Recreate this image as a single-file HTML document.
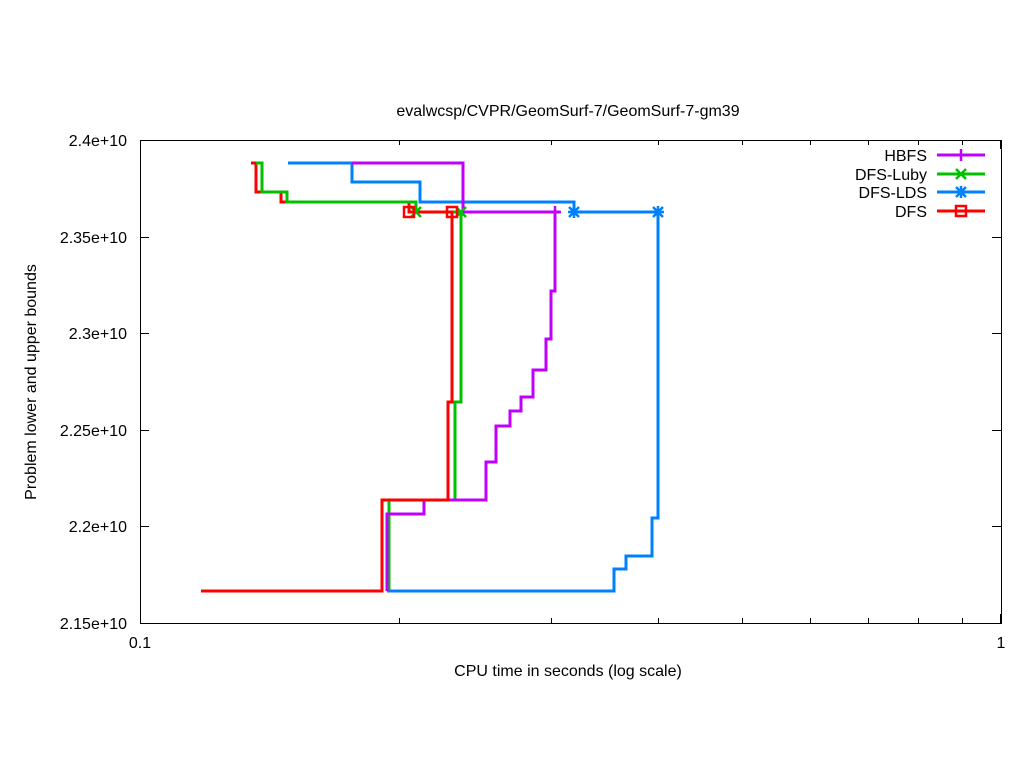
<!DOCTYPE html>
<html><head><style>body{margin:0;background:#fff}svg{display:block}text{font-family:"Liberation Sans",sans-serif;font-size:16px;fill:#000}</style></head><body>
<svg width="1024" height="768" viewBox="0 0 1024 768">
<rect width="1024" height="768" fill="#fff"/>
<g stroke="#000" stroke-width="1" fill="none">
<rect x="140.5" y="140.5" width="861" height="483"/>
<path d="M140 237.5h9M1001 237.5h-9M140 333.5h9M1001 333.5h-9M140 430.5h9M1001 430.5h-9M140 526.5h9M1001 526.5h-9"/>
<path d="M140.5 623v-9M140.5 140v9M1000.5 623v-9M1000.5 140v9"/>
<path d="M399.5 623v-5M399.5 140v5M551.5 623v-5M551.5 140v5M658.5 623v-5M658.5 140v5M742.5 623v-5M742.5 140v5M810.5 623v-5M810.5 140v5M868.5 623v-5M868.5 140v5M918.5 623v-5M918.5 140v5M962.5 623v-5M962.5 140v5"/>
</g>
<g text-anchor="end">
<text x="127" y="146">2.4e+10</text>
<text x="127" y="243">2.35e+10</text>
<text x="127" y="339">2.3e+10</text>
<text x="127" y="436">2.25e+10</text>
<text x="127" y="532">2.2e+10</text>
<text x="127" y="629">2.15e+10</text>
</g>
<text x="140" y="648" text-anchor="middle">0.1</text>
<text x="1001" y="648" text-anchor="middle">1</text>
<text x="568" y="676" text-anchor="middle">CPU time in seconds (log scale)</text>
<text x="568" y="116" text-anchor="middle">evalwcsp/CVPR/GeomSurf-7/GeomSurf-7-gm39</text>
<text transform="translate(36,382) rotate(-90)" text-anchor="middle">Problem lower and upper bounds</text>
<g fill="none" stroke-width="3">
<path stroke="#ff0000" d="M251 163H256V192H281V202H409V212H452M201 591H382V500H448V402H452V212"/>
<path stroke="#00c000" d="M256 163H262V192H287V202H416V212H461M389 591V500H455V402H461V212"/>
<path stroke="#0080ff" d="M288 163H352V182H420V202H574V212H658M387 591H614V569H626V556H652V518H658V212"/>
<path stroke="#bf00ff" d="M352 163H463V212H560M387 591V514H424V500H486V462H496V426H510V411H521V397H533V370H546V339H551V291H555V212"/>
<path stroke="#ff0000" d="M201 591H382V500H448V402H452V212H409"/>
</g>
<g fill="none" stroke-width="2.5">
<path stroke="#bf00ff" d="M555 206v12M549 212h12"/>
<path stroke="#00c000" d="M411 207l10 10M421 207l-10 10M456 207l10 10M466 207l-10 10"/>
<path stroke="#0080ff" d="M569 207l10 10M579 207l-10 10M574 206v12M568 212h12M653 207l10 10M663 207l-10 10M658 206v12M652 212h12"/>
<path stroke="#ff0000" d="M404 207h10v10h-10zM447 207h10v10h-10z"/>
</g>
<g text-anchor="end">
<text x="927" y="161">HBFS</text>
<text x="927" y="180">DFS-Luby</text>
<text x="927" y="198">DFS-LDS</text>
<text x="927" y="217">DFS</text>
</g>
<g fill="none" stroke-width="3">
<path stroke="#bf00ff" d="M937 155H985"/>
<path stroke="#00c000" d="M937 174H985"/>
<path stroke="#0080ff" d="M937 192H985"/>
<path stroke="#ff0000" d="M937 211H985"/>
</g>
<g fill="none" stroke-width="2.5">
<path stroke="#bf00ff" d="M961 149v12"/>
<path stroke="#00c000" d="M956 169l10 10M966 169l-10 10"/>
<path stroke="#0080ff" d="M956 187l10 10M966 187l-10 10M961 186v12"/>
<path stroke="#ff0000" d="M956 206h10v10h-10z"/>
</g>
</svg>
</body></html>
